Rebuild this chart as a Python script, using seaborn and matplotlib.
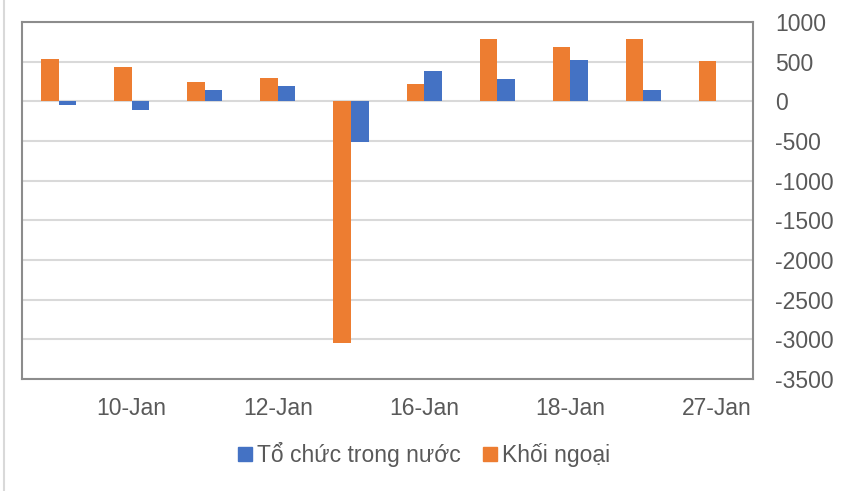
import pandas as pd
import numpy as np
import seaborn as sns
import matplotlib.pyplot as plt
from matplotlib.lines import Line2D

# Data (billion VND, net buy/sell)
dates = ["9-Jan", "10-Jan", "11-Jan", "12-Jan", "13-Jan",
         "16-Jan", "17-Jan", "18-Jan", "19-Jan", "27-Jan"]
khoi_ngoai = [530, 430, 240, 300, -3040, 225, 790, 690, 790, 515]
to_chuc = [-40, -110, 142, 190, -515, 382, 282, 521, 142, 0]
shown_labels = ["10-Jan", "12-Jan", "16-Jan", "18-Jan", "27-Jan"]

ORANGE = "#ED7D31"
BLUE = "#4472C4"
TEXT = "#595959"

df = pd.concat([
    pd.DataFrame({"date": dates, "series": "Khối ngoại", "value": khoi_ngoai}),
    pd.DataFrame({"date": dates, "series": "Tổ chức trong nước", "value": to_chuc}),
])

sns.set_theme(style="white")
plt.rcParams['font.family'] = ['Liberation Sans', 'DejaVu Sans']
plt.rcParams['axes.unicode_minus'] = False

fig = plt.figure(figsize=(8.48, 4.91), dpi=100)
ax = fig.add_axes([0.026, 0.228, 0.862, 0.727])

sns.barplot(
    data=df, x="date", y="value", hue="series",
    hue_order=["Khối ngoại", "Tổ chức trong nước"],
    palette=[ORANGE, BLUE], order=dates,
    width=0.48, saturation=1, errorbar=None, legend=False,
    linewidth=0, ax=ax,
)

ax.set_ylim(-3500, 1000)
ax.set_yticks(np.arange(-3500, 1001, 500))
ax.yaxis.tick_right()
ax.tick_params(axis="y", labelsize=16.5, colors=TEXT, length=0, pad=16)
ax.tick_params(axis="x", labelsize=16.5, colors=TEXT, length=0, pad=13)
ax.set_xticks(range(len(dates)))
ax.set_xticklabels([d if d in shown_labels else "" for d in dates])
ax.set_xlim(-0.5, len(dates) - 0.5)
ax.set_xlabel("")
ax.set_ylabel("")

ax.grid(axis="y", color="#d9d9d9", linewidth=1.5)
ax.set_axisbelow(True)
for sp in ax.spines.values():
    sp.set_visible(True)
    sp.set_color("#8c8c8c")
    sp.set_linewidth(1.5)

handles = [
    Line2D([0], [0], marker="s", linestyle="", markersize=9.4,
           markerfacecolor=BLUE, markeredgecolor=BLUE),
    Line2D([0], [0], marker="s", linestyle="", markersize=9.4,
           markerfacecolor=ORANGE, markeredgecolor=ORANGE),
]
leg = fig.legend(handles, ["Tổ chức trong nước", "Khối ngoại"],
                 loc="center", bbox_to_anchor=(0.5, 0.074), ncol=2,
                 frameon=False, fontsize=16.5, handletextpad=0.2,
                 columnspacing=1.0, handlelength=0.6)
for t in leg.get_texts():
    t.set_color(TEXT)

# outer chart frame line on the left
fig.add_artist(Line2D([0.005, 0.005], [0, 1], color="#d9d9d9",
                      linewidth=1.5, transform=fig.transFigure))

fig.savefig("out.png", dpi=100)
